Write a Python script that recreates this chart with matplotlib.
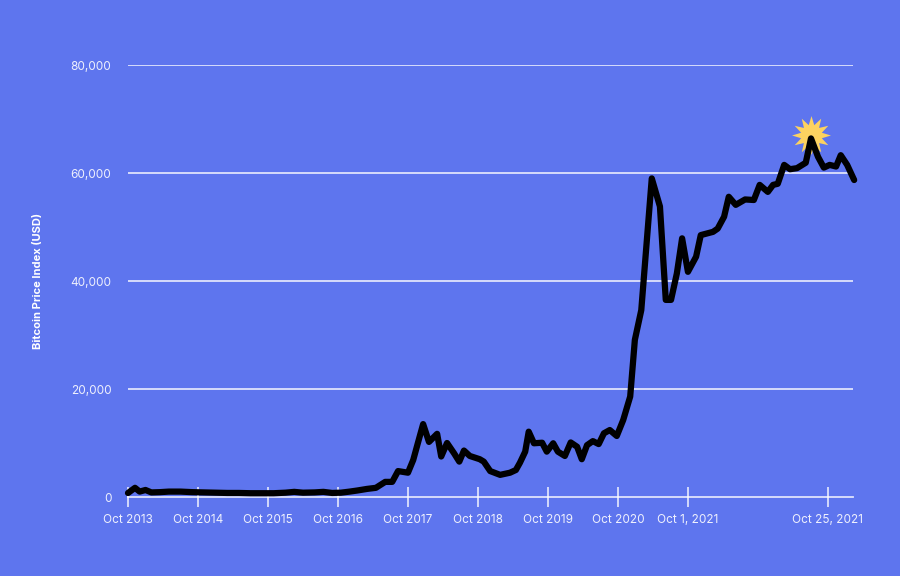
import matplotlib
matplotlib.use("Agg")
import matplotlib.pyplot as plt
from matplotlib.path import Path

plt.rcParams['font.family'] = ['Inter', 'DejaVu Sans']

# x positions (months since Oct 2013) and prices (USD)
months = [0, 1.2, 2, 3, 4, 5.5, 7, 9, 11, 13, 15, 17, 19, 21, 23, 25, 27, 28.5, 30, 32,
          33.5, 35, 36.5, 38, 39.3, 41, 42.5, 44.1, 45.3, 46.3, 48.0, 48.9, 49.7, 50.6,
          51.6, 53.0, 53.7, 54.7, 55.9, 56.8, 57.6, 58.6, 60.3, 61.0, 62.1, 63.8, 65.5,
          66.5, 67.2, 68.1, 68.7, 69.6, 71.0, 71.8, 72.9, 73.7, 74.9, 75.9, 77.0, 77.8,
          78.7, 79.7, 80.7, 81.6, 82.6, 83.8, 84.9, 86.1, 86.9, 88.0, 89.8, 91.2, 92.2,
          93.1, 94.1, 95.0, 96.0, 97.4, 98.2, 100.3, 101.1, 102.2, 103.0, 104.2, 105.8,
          107.3, 108.3, 109.7, 110.6, 111.4, 112.5, 113.5, 114.7, 116.2, 117.1, 118.3,
          119.3, 120.3, 121.4, 122.2, 123.3, 124.5]
prices = [740, 1700, 1000, 1300, 850, 900, 1000, 1000, 900, 850, 800, 750, 750, 700, 700,
          700, 800, 950, 800, 850, 950, 750, 800, 1000, 1200, 1500, 1700, 2800, 2800, 4800,
          4500, 6850, 10000, 13500, 10200, 11700, 7500, 10000, 8100, 6550, 8600, 7600, 7000,
          6550, 4800, 4100, 4500, 5000, 6350, 8400, 12100, 9950, 10050, 8400, 9950, 8400,
          7600, 10100, 9300, 7000, 9600, 10350, 9800, 11800, 12400, 11300, 14250, 18600,
          29100, 34600, 59000, 53800, 36500, 36500, 41400, 47900, 41700, 44500, 48500,
          49100, 49700, 51900, 55600, 54100, 55100, 55000, 57800, 56500, 57800, 58000,
          61500, 60700, 60900, 61900, 66400, 63000, 61000, 61500, 61200, 63300, 61500,
          58700]

tick_pos = [0, 12, 24, 36, 48, 60, 72, 84, 96, 120]
tick_labels = ["Oct 2013", "Oct 2014", "Oct 2015", "Oct 2016", "Oct 2017", "Oct 2018",
               "Oct 2019", "Oct 2020", "Oct 1, 2021", "Oct 25, 2021"]
y_ticks = [0, 20000, 40000, 60000, 80000]
y_labels = ["0", "20,000", "40,000", "60,000", "80,000"]

bg = '#5E75EE'
label_col = '#EEF0FD'

fig = plt.figure(figsize=(9, 5.76), dpi=100, facecolor=bg)
ax = fig.add_axes([128/900, 79/576, (853-128)/900, (497-65)/576], facecolor=bg)

ax.set_xlim(0, 124.3)
ax.set_ylim(0, 80000)

for yv in y_ticks[1:]:
    ax.axhline(yv, color='white', alpha=0.8, lw=1.3, zorder=1)

for s in ['left', 'right', 'top']:
    ax.spines[s].set_visible(False)
ax.spines['bottom'].set_color((1, 1, 1, 0.8))
ax.spines['bottom'].set_linewidth(1.3)

ax.set_xticks(tick_pos)
ax.set_xticklabels(tick_labels)
ax.tick_params(axis='x', direction='inout', length=14, width=1.2, color=(1, 1, 1, 0.85),
               labelcolor=label_col, labelsize=8.5, pad=5.5)
ax.set_yticks(y_ticks)
ax.set_yticklabels(y_labels)
ax.tick_params(axis='y', length=0, labelcolor=label_col, labelsize=8.5, pad=12)

ax.set_ylabel("Bitcoin Price Index (USD)", color='white', fontsize=8, fontweight='bold',
              labelpad=20)

peak_i = prices.index(max(prices))
star = Path.unit_regular_star(12, 0.55)
ax.plot([months[peak_i]], [prices[peak_i] + 600], marker=star, markersize=28,
        color='#FCD260', markeredgewidth=0, zorder=2, linestyle='none', clip_on=False)

ax.plot(months, prices, color='black', lw=4.5, solid_joinstyle='round',
        solid_capstyle='round', zorder=3, clip_on=False)

fig.savefig('out.png', dpi=100, facecolor=bg)
